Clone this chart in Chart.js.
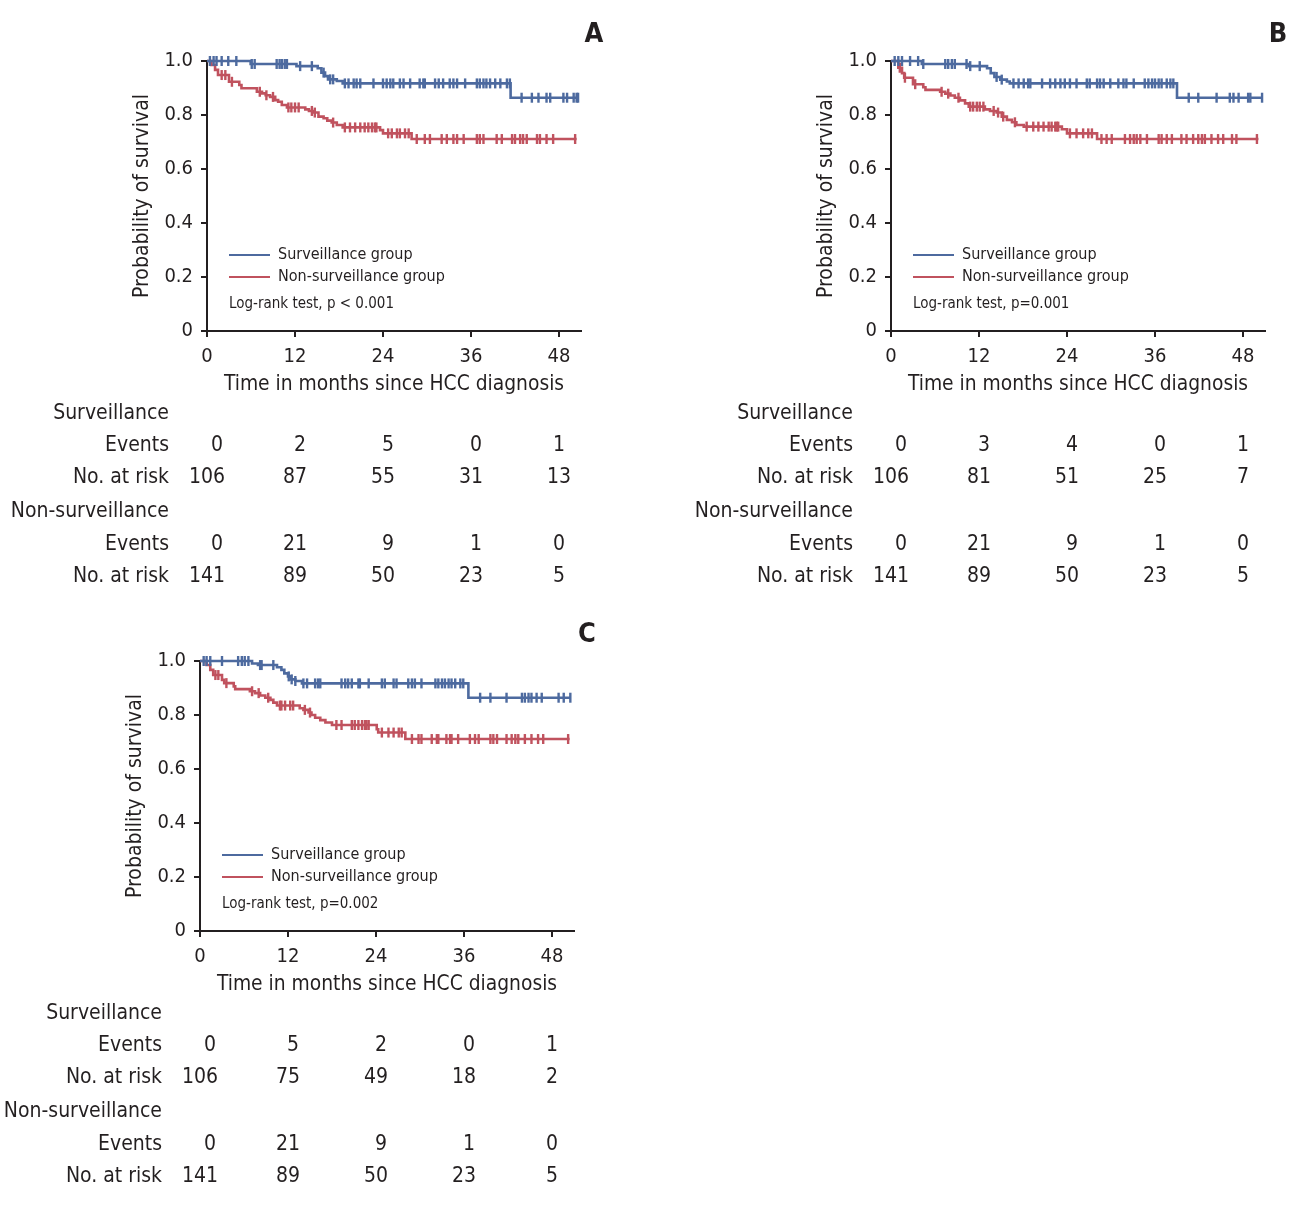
<!DOCTYPE html>
<html>
<head>
<meta charset="utf-8">
<script src="https://cdn.jsdelivr.net/npm/chart.js@4.4.1/dist/chart.umd.min.js"></script>
<style>
  body { margin: 0; background: #fff; width: 1311px; height: 1206px; position: relative; overflow: hidden; }
  canvas { position: absolute; }
</style>
</head>
<body>
<canvas id="panelA" width="620" height="600" style="left:0px;top:0px"></canvas>
<canvas id="panelB" width="620" height="600" style="left:684px;top:0px"></canvas>
<canvas id="panelC" width="620" height="600" style="left:-7px;top:600px"></canvas>
<script>
const FONT = '"Liberation Sans Narrow", "DejaVu Sans Condensed", "Arial Narrow", sans-serif';
const TEXT = '#231f20';
const BLUE = '#4d6a9f';
const RED = '#c0525e';

const xTicks = [0, 12, 24, 36, 48];
const yTicks = [0, 0.2, 0.4, 0.6, 0.8, 1.0];

// Panel A
const aSurvTimes = [0, 5.95, 12.2, 15.1, 15.6, 16.1, 16.5, 17.7, 18.5, 41.4];
const aSurvValues = [1, 0.989, 0.981, 0.973, 0.957, 0.944, 0.932, 0.926, 0.917, 0.864];
const aSurvCensor = [0.4, 0.9, 1.3, 2.0, 2.9, 4.0, 6.1, 6.5, 9.5, 9.9, 10.2, 10.6, 10.9, 12.7, 14.3, 15.9, 16.8, 17.2, 18.8, 19.3, 20.0, 20.4, 20.9, 22.7, 24.0, 24.5, 25.0, 25.4, 26.3, 26.8, 27.7, 29.0, 29.5, 29.7, 31.1, 31.6, 32.2, 33.1, 33.6, 34.1, 35.2, 36.8, 37.2, 37.7, 38.1, 38.6, 39.3, 40.0, 40.9, 41.3, 42.9, 44.3, 45.2, 46.3, 46.8, 48.6, 49.1, 50.0, 50.4, 50.6];
const aSurvEnd = 50.6;
const aNonTimes = [0, 0.6, 1.1, 1.5, 3.0, 4.4, 4.7, 6.8, 7.5, 8.0, 8.6, 9.3, 9.7, 10.2, 10.9, 13.4, 13.9, 14.6, 15.2, 15.9, 16.4, 17.0, 17.7, 18.5, 23.6, 24.0, 27.9];
const aNonValues = [1, 0.985, 0.967, 0.948, 0.923, 0.911, 0.899, 0.886, 0.880, 0.873, 0.867, 0.855, 0.849, 0.837, 0.828, 0.821, 0.815, 0.809, 0.794, 0.788, 0.779, 0.772, 0.763, 0.754, 0.744, 0.732, 0.711];
const aNonCensor = [2.0, 2.5, 3.4, 7.2, 8.1, 9.0, 11.1, 11.5, 12.0, 12.5, 14.3, 14.7, 17.2, 18.8, 19.5, 20.2, 20.9, 21.5, 22.0, 22.5, 22.9, 23.1, 24.7, 25.2, 25.9, 26.3, 27.0, 27.5, 28.6, 29.7, 30.4, 32.0, 32.7, 33.6, 34.1, 35.0, 36.8, 37.2, 37.7, 39.5, 40.2, 41.6, 42.0, 42.7, 43.1, 43.6, 45.0, 45.4, 46.3, 47.2, 50.2];
const aNonEnd = 50.4;
const aSurvEvents = [0, 2, 5, 0, 1];
const aSurvRisk = [106, 87, 55, 31, 13];
const aNonEvents = [0, 21, 9, 1, 0];
const aNonRisk = [141, 89, 50, 23, 5];

// Panel B
const bSurvTimes = [0, 4.2, 10.6, 13.1, 13.6, 14.1, 14.9, 15.8, 16.2, 39.0];
const bSurvValues = [1, 0.989, 0.981, 0.973, 0.955, 0.941, 0.931, 0.924, 0.917, 0.864];
const bSurvCensor = [0.5, 1.0, 1.5, 2.6, 3.7, 4.4, 7.4, 7.8, 8.3, 8.7, 10.3, 10.8, 12.1, 14.4, 15.1, 16.7, 17.4, 18.1, 18.7, 19.0, 20.6, 21.7, 22.4, 23.1, 23.7, 24.4, 25.3, 26.7, 27.1, 28.1, 28.5, 29.0, 29.9, 31.0, 31.7, 32.1, 33.1, 34.6, 35.1, 35.6, 36.0, 36.5, 36.9, 37.6, 38.1, 38.5, 40.6, 41.9, 44.4, 46.2, 46.7, 47.4, 48.7, 49.0, 50.6];
const bSurvEnd = 50.6;
const bNonTimes = [0, 1.0, 1.5, 1.8, 3.0, 4.4, 4.7, 6.7, 7.4, 8.1, 8.7, 9.4, 10.1, 10.6, 12.8, 13.5, 14.4, 15.1, 15.8, 16.5, 17.1, 18.1, 23.3, 24.0, 28.1];
const bNonValues = [1, 0.975, 0.955, 0.938, 0.914, 0.903, 0.893, 0.886, 0.879, 0.872, 0.864, 0.854, 0.843, 0.831, 0.821, 0.815, 0.809, 0.794, 0.782, 0.773, 0.763, 0.757, 0.747, 0.732, 0.711];
const bNonCensor = [1.2, 1.9, 3.3, 6.9, 7.8, 9.2, 10.8, 11.2, 11.7, 12.1, 12.6, 14.0, 14.6, 15.3, 16.9, 18.5, 19.4, 20.1, 20.8, 21.5, 21.9, 22.4, 22.6, 22.8, 24.4, 25.3, 26.2, 26.9, 27.4, 28.7, 29.4, 30.1, 31.9, 32.6, 33.1, 33.5, 34.0, 34.9, 36.5, 36.9, 37.6, 38.3, 39.6, 40.3, 41.2, 41.9, 42.4, 42.8, 43.7, 44.6, 45.3, 46.5, 47.1, 49.9];
const bNonEnd = 50.1;
const bSurvEvents = [0, 3, 4, 0, 1];
const bSurvRisk = [106, 81, 51, 25, 7];
const bNonEvents = [0, 21, 9, 1, 0];
const bNonRisk = [141, 89, 50, 23, 5];

// Panel C
const cSurvTimes = [0, 7.1, 7.9, 10.5, 11.1, 11.5, 12.0, 12.4, 13.0, 13.9, 36.6];
const cSurvValues = [1, 0.991, 0.985, 0.977, 0.967, 0.954, 0.943, 0.932, 0.926, 0.917, 0.864];
const cSurvCensor = [0.5, 0.9, 1.4, 3.0, 5.2, 5.7, 6.1, 6.6, 8.2, 8.4, 10.0, 12.1, 12.5, 13.0, 14.1, 14.6, 15.7, 16.1, 16.4, 19.3, 19.8, 20.2, 20.7, 21.6, 21.8, 23.0, 24.8, 25.2, 26.4, 26.8, 28.4, 28.9, 29.3, 30.2, 32.1, 32.5, 33.0, 33.4, 33.9, 34.3, 34.8, 35.5, 35.9, 38.2, 39.6, 41.8, 43.9, 44.3, 44.8, 45.2, 45.9, 46.6, 48.9, 49.6, 50.5];
const cSurvEnd = 50.5;
const cNonTimes = [0, 0.9, 1.4, 1.8, 3.0, 3.3, 4.6, 4.8, 6.8, 7.5, 8.2, 8.9, 9.6, 10.0, 10.5, 13.6, 14.1, 14.8, 15.2, 15.7, 16.4, 17.1, 18.0, 24.1, 24.3, 28.0];
const cNonValues = [1, 0.985, 0.967, 0.948, 0.930, 0.918, 0.906, 0.896, 0.888, 0.881, 0.872, 0.864, 0.856, 0.846, 0.835, 0.825, 0.819, 0.809, 0.800, 0.790, 0.781, 0.772, 0.763, 0.747, 0.735, 0.711];
const cNonCensor = [2.1, 2.5, 3.6, 7.1, 8.0, 9.3, 10.9, 11.1, 11.6, 12.3, 12.7, 14.3, 15.0, 18.6, 19.3, 20.7, 21.1, 21.6, 22.1, 22.5, 22.7, 23.0, 24.8, 25.7, 26.4, 27.1, 27.5, 28.9, 29.8, 30.2, 31.6, 32.3, 32.5, 33.6, 34.1, 34.3, 35.2, 36.8, 37.5, 38.0, 39.6, 40.0, 40.5, 41.8, 42.5, 43.0, 43.4, 44.3, 45.2, 46.1, 46.8, 50.2];
const cNonEnd = 50.4;
const cSurvEvents = [0, 5, 2, 0, 1];
const cSurvRisk = [106, 75, 49, 18, 2];
const cNonEvents = [0, 21, 9, 1, 0];
const cNonRisk = [141, 89, 50, 23, 5];

// KM step line: hold the level until the next event, then drop
function stepPoints(times, values, end) {
    const pts = times.map((t, i) => ({ x: t, y: values[i] }));
    pts.push({ x: end, y: values[values.length - 1] });
    return pts;
}

// censor marks sit on the curve level at their time
function censorPoints(times, values, censor) {
    return censor.map(t => {
        let y = values[0];
        for (let i = 0; i < times.length; i++) {
            if (times[i] <= t) y = values[i];
        }
        return { x: t, y: y };
    });
}

const panelDecor = {
    id: 'panelDecor',
    afterDraw(chart, args, opts) {
        const { ctx, chartArea: ca } = chart;
        const xs = chart.scales.x;
        ctx.save();
        ctx.textBaseline = 'middle';

        // legend inside the plot
        ctx.lineWidth = 2;
        [[BLUE, 'Surveillance group', 194], [RED, 'Non-surveillance group', 216]].forEach(([c, label, dy]) => {
            ctx.strokeStyle = c;
            ctx.beginPath();
            ctx.moveTo(ca.left + 22, ca.top + dy);
            ctx.lineTo(ca.left + 63, ca.top + dy);
            ctx.stroke();
            ctx.fillStyle = TEXT;
            ctx.textAlign = 'left';
            ctx.font = '16px ' + FONT;
            ctx.fillText(label, ca.left + 71, ca.top + dy);
        });
        ctx.font = '15px ' + FONT;
        ctx.fillText(opts.logRank, ca.left + 22, ca.top + 243);

        // panel letter
        ctx.font = 'bold 27px ' + FONT;
        ctx.textAlign = 'center';
        ctx.fillText(opts.letter, ca.left + 387, 35);

        // number at risk table
        const rows = [
            ['Surveillance', null, null, 414],
            ['Events', opts.survEvents, 'ev', 446],
            ['No. at risk', opts.survRisk, 'risk', 478],
            ['Non-surveillance', null, null, 512],
            ['Events', opts.nonEvents, 'ev', 545],
            ['No. at risk', opts.nonRisk, 'risk', 577]
        ];
        const evShift = [10, 5, 5, 5, 0];
        ctx.font = '21px ' + FONT;
        rows.forEach(([label, vals, kind, y]) => {
            ctx.textAlign = 'right';
            ctx.fillText(label, ca.left - 38, y);
            if (!vals) return;
            ctx.textAlign = 'center';
            vals.forEach((v, i) => {
                let px = xs.getPixelForValue(xTicks[i]);
                if (kind === 'ev' && String(v).length === 1) px += evShift[i];
                ctx.fillText(String(v), px, y);
            });
        });
        ctx.restore();
    }
};

function buildPanel(id, p) {
    const lineDs = (data, color) => ({
        data: data, showLine: true, stepped: true, borderColor: color, borderWidth: 2.6,
        pointRadius: 0, order: 1, clip: 8
    });
    const censorDs = (data, color) => ({
        data: data, showLine: false, pointStyle: 'line', rotation: 90, pointRadius: 5,
        borderColor: color, backgroundColor: color, pointBorderWidth: 2.4, order: 0, clip: 8
    });
    return new Chart(document.getElementById(id), {
        type: 'scatter',
        data: {
            datasets: [
                censorDs(censorPoints(p.survTimes, p.survValues, p.survCensor), BLUE),
                censorDs(censorPoints(p.nonTimes, p.nonValues, p.nonCensor), RED),
                lineDs(stepPoints(p.survTimes, p.survValues, p.survEnd), BLUE),
                lineDs(stepPoints(p.nonTimes, p.nonValues, p.nonEnd), RED)
            ]
        },
        options: {
            responsive: false,
            animation: false,
            devicePixelRatio: 1,
            layout: { padding: { left: 125, top: 61, right: 39, bottom: 199 } },
            plugins: {
                legend: { display: false },
                tooltip: { enabled: false },
                panelDecor: p
            },
            scales: {
                x: {
                    type: 'linear', min: 0, max: 51,
                    afterBuildTicks: s => { s.ticks = xTicks.map(v => ({ value: v })); },
                    afterFit: s => { s.height = 70; },
                    grid: { drawOnChartArea: false, drawTicks: true, tickLength: 6, color: TEXT, lineWidth: 2 },
                    border: { display: true, color: TEXT, width: 2 },
                    ticks: { color: TEXT, font: { family: FONT, size: 20 }, padding: 8, maxRotation: 0 },
                    title: { display: true, text: 'Time in months since HCC diagnosis', color: TEXT,
                        font: { family: FONT, size: 20.8 }, padding: { top: 0, bottom: 4 } }
                },
                y: {
                    type: 'linear', min: 0, max: 1,
                    afterBuildTicks: s => { s.ticks = yTicks.map(v => ({ value: v })); },
                    afterFit: s => { s.width = 82; },
                    grid: { drawOnChartArea: false, drawTicks: true, tickLength: 6, color: TEXT, lineWidth: 2 },
                    border: { display: true, color: TEXT, width: 2 },
                    ticks: { color: TEXT, font: { family: FONT, size: 20 }, padding: 8,
                        callback: v => (v === 0 ? '0' : v.toFixed(1)) },
                    title: { display: true, text: 'Probability of survival', color: TEXT,
                        font: { family: FONT, size: 21 }, padding: { top: 5, bottom: 0 } }
                }
            }
        },
        plugins: [panelDecor]
    });
}

buildPanel('panelA', {
    letter: 'A', logRank: 'Log-rank test, p < 0.001',
    survTimes: aSurvTimes, survValues: aSurvValues, survCensor: aSurvCensor, survEnd: aSurvEnd,
    nonTimes: aNonTimes, nonValues: aNonValues, nonCensor: aNonCensor, nonEnd: aNonEnd,
    survEvents: aSurvEvents, survRisk: aSurvRisk, nonEvents: aNonEvents, nonRisk: aNonRisk
});
buildPanel('panelB', {
    letter: 'B', logRank: 'Log-rank test, p=0.001',
    survTimes: bSurvTimes, survValues: bSurvValues, survCensor: bSurvCensor, survEnd: bSurvEnd,
    nonTimes: bNonTimes, nonValues: bNonValues, nonCensor: bNonCensor, nonEnd: bNonEnd,
    survEvents: bSurvEvents, survRisk: bSurvRisk, nonEvents: bNonEvents, nonRisk: bNonRisk
});
buildPanel('panelC', {
    letter: 'C', logRank: 'Log-rank test, p=0.002',
    survTimes: cSurvTimes, survValues: cSurvValues, survCensor: cSurvCensor, survEnd: cSurvEnd,
    nonTimes: cNonTimes, nonValues: cNonValues, nonCensor: cNonCensor, nonEnd: cNonEnd,
    survEvents: cSurvEvents, survRisk: cSurvRisk, nonEvents: cNonEvents, nonRisk: cNonRisk
});
</script>
</body>
</html>
